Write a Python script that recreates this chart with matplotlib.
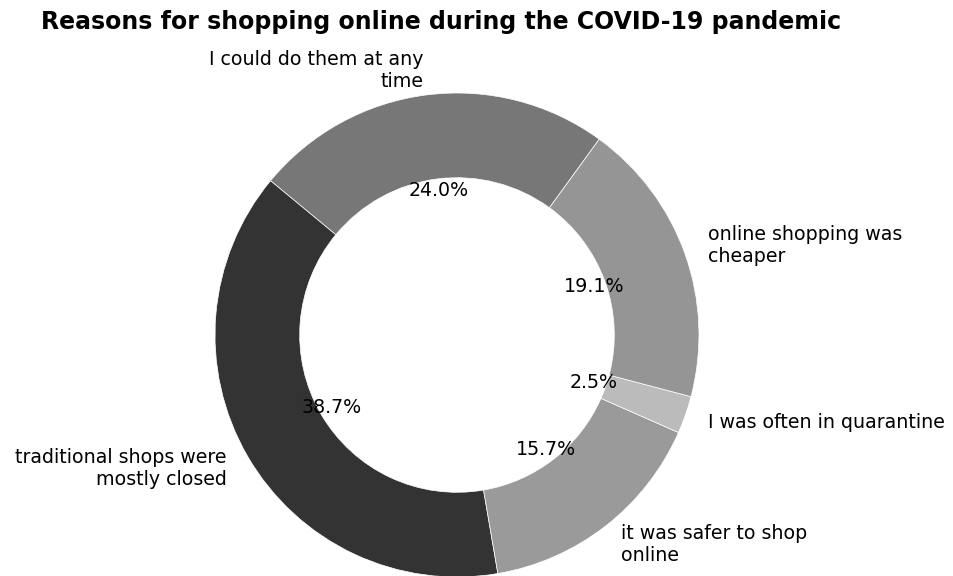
import matplotlib.pyplot as plt

# reasons for shopping online (share of answers, %)
labels = ['I could do them at any\ntime', 'traditional shops were\nmostly closed',
          'it was safer to shop\nonline', 'I was often in quarantine',
          'online shopping was\ncheaper']
values = [24.0, 38.7, 15.7, 2.5, 19.1]
colors = ['#777777', '#333333', '#9a9a9a', '#bbbbbb', '#959595']

fig = plt.figure(figsize=(9.54, 5.76), dpi=100)
W, H = 954, 576
cx, cy, r = 457, 335, 242
ax = fig.add_axes([(cx - r) / W, (H - cy - r) / H, 2 * r / W, 2 * r / H])

wedges, texts, autotexts = ax.pie(values, labels=labels, colors=colors, startangle=54,
                                  autopct='%1.1f%%', pctdistance=0.6, labeldistance=1.1,
                                  wedgeprops=dict(width=0.35, edgecolor='white', linewidth=0.5),
                                  textprops=dict(fontsize=13.7))
for t in texts + autotexts:
    t.set_clip_on(False)
ax.set_xlim(-1, 1)
ax.set_ylim(-1, 1)

fig.text(441 / W, 1 - 22 / H, 'Reasons for shopping online during the COVID-19 pandemic',
         ha='center', va='center', fontsize=17, fontweight='bold')

plt.savefig('out.png', dpi=100)
